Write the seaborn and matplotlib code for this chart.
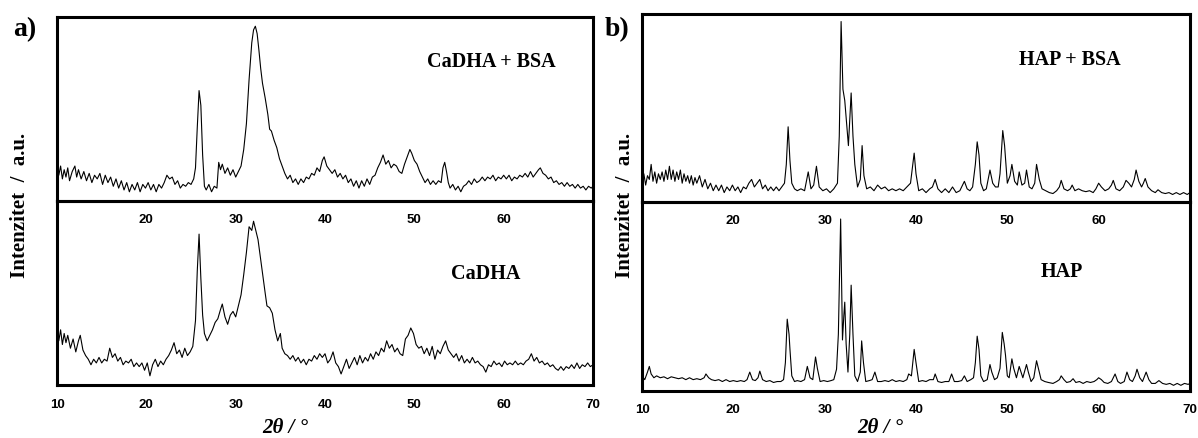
import pandas as pd
import matplotlib
matplotlib.use("Agg")
import matplotlib.pyplot as plt
import seaborn as sns
from matplotlib.ticker import MultipleLocator

# XRD traces: (2theta, intensity as fraction of panel height)
cadha_bsa = [(10.0,.21),(10.2,.14),(10.4,.19),(10.6,.12),(10.8,.17),(11.0,.13),(11.2,.18),(11.4,.11),(11.7,.16),(12.0,.19),(12.2,.13),(12.4,.17),(12.7,.12),(13.0,.16),(13.3,.11),(13.6,.15),(13.9,.10),(14.2,.14),(14.5,.12),(14.8,.15),(15.1,.09),(15.4,.14),(15.7,.10),(16.0,.13),(16.3,.08),(16.6,.12),(16.9,.07),(17.2,.11),(17.5,.06),(17.8,.10),(18.1,.05),(18.4,.09),(18.7,.06),(19.0,.10),(19.3,.05),(19.6,.09),(19.9,.07),(20.2,.10),(20.5,.06),(20.8,.09),(21.1,.05),(21.4,.09),(21.7,.07),(22.0,.10),(22.3,.14),(22.6,.12),(22.9,.13),(23.2,.09),(23.5,.11),(23.8,.07),(24.1,.09),(24.4,.08),(24.7,.10),(25.0,.09),(25.3,.12),(25.5,.18),(25.7,.40),(25.9,.60),(26.1,.52),(26.3,.25),(26.5,.08),(26.7,.06),(27.0,.09),(27.3,.05),(27.6,.08),(27.9,.07),(28.1,.21),(28.3,.17),(28.5,.20),(28.8,.15),(29.1,.18),(29.4,.14),(29.7,.17),(30.0,.13),(30.3,.16),(30.6,.19),(30.9,.28),(31.2,.42),(31.5,.66),(31.8,.86),(32.0,.93),(32.2,.95),(32.4,.91),(32.6,.82),(32.8,.72),(33.0,.64),(33.3,.56),(33.6,.47),(33.8,.39),(34.0,.38),(34.3,.33),(34.6,.29),(34.9,.23),(35.2,.19),(35.5,.15),(35.8,.12),(36.1,.14),(36.4,.10),(36.7,.12),(37.0,.09),(37.3,.12),(37.6,.10),(37.9,.13),(38.2,.12),(38.5,.15),(38.8,.14),(39.1,.18),(39.4,.16),(39.7,.22),(39.9,.24),(40.2,.19),(40.5,.17),(40.8,.15),(41.1,.17),(41.4,.13),(41.7,.15),(42.0,.12),(42.3,.14),(42.6,.10),(42.9,.12),(43.2,.08),(43.5,.11),(43.8,.07),(44.1,.11),(44.4,.08),(44.7,.12),(45.0,.09),(45.3,.13),(45.6,.14),(45.9,.18),(46.2,.21),(46.5,.25),(46.8,.20),(47.1,.22),(47.4,.18),(47.7,.20),(48.0,.19),(48.3,.16),(48.6,.15),(48.9,.20),(49.2,.24),(49.5,.28),(49.7,.26),(50.0,.22),(50.3,.20),(50.6,.16),(50.9,.13),(51.2,.10),(51.5,.12),(51.8,.09),(52.1,.11),(52.4,.09),(52.7,.11),(53.0,.10),(53.2,.18),(53.4,.21),(53.6,.16),(53.8,.10),(54.0,.07),(54.3,.09),(54.6,.06),(54.9,.08),(55.2,.05),(55.5,.08),(55.8,.09),(56.1,.11),(56.4,.09),(56.7,.12),(57.0,.10),(57.3,.11),(57.6,.13),(57.9,.11),(58.2,.13),(58.5,.12),(58.8,.14),(59.1,.11),(59.4,.13),(59.7,.12),(60.0,.14),(60.3,.12),(60.6,.14),(60.9,.11),(61.2,.13),(61.5,.12),(61.8,.14),(62.1,.13),(62.4,.15),(62.7,.13),(63.0,.16),(63.3,.13),(63.6,.15),(63.9,.17),(64.1,.18),(64.4,.15),(64.7,.14),(65.0,.12),(65.3,.13),(65.6,.10),(65.9,.11),(66.2,.09),(66.5,.10),(66.8,.08),(67.1,.10),(67.4,.08),(67.7,.09),(68.0,.07),(68.3,.09),(68.6,.07),(68.9,.08),(69.2,.06),(69.5,.08),(69.8,.07),(70.0,.08)]

cadha = [(10.0,.34),(10.2,.24),(10.4,.30),(10.6,.22),(10.8,.28),(11.0,.23),(11.2,.27),(11.5,.20),(11.8,.25),(12.1,.18),(12.4,.24),(12.6,.27),(12.9,.19),(13.2,.16),(13.5,.14),(13.8,.11),(14.1,.14),(14.4,.12),(14.7,.15),(15.0,.12),(15.3,.14),(15.6,.13),(15.9,.20),(16.2,.15),(16.5,.17),(16.8,.13),(17.1,.15),(17.4,.11),(17.7,.13),(18.0,.12),(18.3,.14),(18.6,.10),(18.9,.12),(19.2,.10),(19.5,.12),(19.8,.08),(20.1,.12),(20.4,.05),(20.7,.11),(21.0,.14),(21.3,.10),(21.6,.13),(21.9,.11),(22.2,.14),(22.5,.16),(22.8,.19),(23.1,.23),(23.4,.17),(23.7,.19),(24.0,.15),(24.3,.20),(24.6,.16),(24.9,.18),(25.2,.21),(25.5,.35),(25.7,.62),(25.9,.82),(26.1,.58),(26.3,.38),(26.5,.28),(26.8,.24),(27.1,.27),(27.4,.30),(27.7,.34),(28.0,.36),(28.3,.41),(28.5,.44),(28.8,.37),(29.1,.33),(29.4,.38),(29.7,.40),(30.0,.37),(30.3,.43),(30.6,.49),(30.9,.60),(31.2,.72),(31.5,.86),(31.8,.84),(32.0,.89),(32.2,.85),(32.5,.79),(32.8,.68),(33.0,.61),(33.3,.50),(33.5,.43),(33.8,.42),(34.1,.39),(34.4,.30),(34.7,.24),(35.0,.28),(35.2,.20),(35.5,.17),(35.8,.16),(36.1,.14),(36.4,.16),(36.7,.13),(37.0,.15),(37.3,.12),(37.6,.14),(37.9,.11),(38.2,.14),(38.5,.13),(38.8,.16),(39.1,.14),(39.4,.17),(39.7,.15),(40.0,.17),(40.3,.12),(40.6,.14),(40.9,.18),(41.2,.12),(41.5,.10),(41.8,.06),(42.1,.10),(42.4,.14),(42.7,.09),(43.0,.12),(43.3,.15),(43.6,.11),(43.9,.16),(44.2,.12),(44.5,.15),(44.8,.13),(45.1,.17),(45.4,.14),(45.7,.18),(46.0,.16),(46.3,.20),(46.6,.18),(46.9,.24),(47.2,.20),(47.5,.22),(47.8,.18),(48.1,.20),(48.4,.17),(48.7,.16),(49.0,.25),(49.3,.27),(49.6,.31),(49.9,.28),(50.2,.22),(50.5,.20),(50.8,.21),(51.1,.17),(51.4,.20),(51.7,.16),(52.0,.21),(52.3,.14),(52.6,.19),(52.9,.17),(53.2,.21),(53.5,.24),(53.8,.19),(54.1,.17),(54.4,.15),(54.7,.17),(55.0,.13),(55.3,.16),(55.6,.12),(55.9,.14),(56.2,.12),(56.5,.15),(56.8,.12),(57.1,.13),(57.4,.11),(57.7,.10),(58.0,.07),(58.3,.11),(58.6,.10),(58.9,.13),(59.2,.11),(59.5,.12),(59.8,.10),(60.1,.13),(60.4,.11),(60.7,.12),(61.0,.11),(61.3,.13),(61.6,.11),(61.9,.12),(62.2,.11),(62.5,.13),(62.8,.14),(63.1,.17),(63.4,.13),(63.7,.15),(64.0,.12),(64.3,.13),(64.6,.11),(64.9,.12),(65.2,.10),(65.5,.11),(65.8,.09),(66.1,.08),(66.4,.10),(66.7,.08),(67.0,.10),(67.3,.09),(67.6,.11),(67.9,.09),(68.2,.12),(68.5,.09),(68.8,.11),(69.1,.10),(69.4,.12),(69.7,.10),(70.0,.11)]

hap_bsa = [(10.0,.10),(10.2,.15),(10.4,.09),(10.6,.14),(10.8,.12),(11.0,.20),(11.2,.11),(11.4,.16),(11.6,.10),(11.8,.15),(12.0,.12),(12.2,.16),(12.4,.11),(12.6,.17),(12.8,.12),(13.0,.19),(13.2,.12),(13.4,.17),(13.6,.11),(13.8,.16),(14.0,.12),(14.2,.17),(14.4,.10),(14.6,.15),(14.8,.11),(15.0,.14),(15.2,.10),(15.4,.14),(15.6,.09),(15.8,.13),(16.0,.10),(16.3,.14),(16.6,.08),(16.9,.12),(17.2,.07),(17.5,.10),(17.8,.06),(18.1,.09),(18.4,.06),(18.7,.09),(19.0,.05),(19.3,.08),(19.6,.06),(19.9,.09),(20.2,.06),(20.5,.08),(20.8,.05),(21.1,.08),(21.4,.07),(21.7,.10),(22.0,.12),(22.3,.08),(22.6,.10),(22.9,.12),(23.2,.07),(23.5,.09),(23.8,.06),(24.1,.08),(24.4,.06),(24.7,.08),(25.0,.06),(25.3,.08),(25.6,.10),(25.8,.20),(26.0,.40),(26.2,.22),(26.4,.10),(26.7,.07),(27.0,.06),(27.4,.07),(27.8,.06),(28.2,.16),(28.5,.07),(28.8,.09),(29.1,.19),(29.4,.08),(29.8,.06),(30.2,.07),(30.6,.05),(31.0,.07),(31.4,.10),(31.6,.35),(31.8,.96),(32.0,.60),(32.2,.54),(32.4,.42),(32.6,.30),(32.9,.58),(33.1,.35),(33.3,.20),(33.6,.08),(33.9,.12),(34.1,.30),(34.3,.14),(34.6,.07),(35.0,.08),(35.4,.06),(35.8,.09),(36.2,.07),(36.6,.08),(37.0,.06),(37.4,.07),(37.8,.06),(38.2,.07),(38.6,.06),(39.0,.08),(39.4,.10),(39.6,.18),(39.8,.26),(40.0,.15),(40.3,.06),(40.7,.07),(41.1,.05),(41.5,.07),(41.8,.08),(42.1,.12),(42.4,.07),(42.8,.05),(43.2,.07),(43.6,.05),(44.0,.08),(44.4,.05),(44.8,.06),(45.1,.09),(45.3,.11),(45.6,.07),(45.9,.06),(46.2,.08),(46.5,.20),(46.7,.32),(46.9,.25),(47.1,.10),(47.4,.06),(47.7,.07),(48.1,.17),(48.4,.10),(48.7,.08),(49.0,.08),(49.2,.15),(49.5,.38),(49.7,.30),(50.0,.10),(50.3,.14),(50.5,.20),(50.8,.11),(51.1,.09),(51.3,.16),(51.6,.09),(51.9,.10),(52.1,.17),(52.4,.08),(52.7,.07),(53.0,.10),(53.2,.20),(53.5,.12),(53.8,.07),(54.2,.06),(54.6,.05),(55.0,.045),(55.4,.06),(55.7,.08),(55.9,.115),(56.2,.07),(56.6,.06),(56.9,.07),(57.1,.09),(57.4,.06),(57.8,.07),(58.2,.06),(58.6,.055),(59.0,.06),(59.4,.05),(59.7,.07),(60.0,.10),(60.3,.08),(60.7,.06),(61.1,.07),(61.4,.09),(61.6,.115),(61.9,.07),(62.3,.06),(62.7,.08),(63.0,.115),(63.3,.10),(63.6,.08),(63.9,.12),(64.1,.17),(64.4,.11),(64.7,.08),(64.9,.10),(65.1,.125),(65.4,.08),(65.8,.06),(66.2,.05),(66.5,.065),(66.9,.05),(67.3,.045),(67.7,.05),(68.1,.04),(68.5,.05),(68.9,.04),(69.3,.05),(69.7,.04),(70.0,.05)]

hap = [(10.0,.08),(10.3,.06),(10.6,.10),(10.8,.13),(11.0,.09),(11.3,.07),(11.6,.08),(12.0,.07),(12.4,.075),(12.8,.065),(13.2,.075),(13.6,.07),(14.0,.065),(14.4,.07),(14.8,.06),(15.2,.07),(15.6,.06),(16.0,.065),(16.4,.06),(16.8,.07),(17.0,.09),(17.3,.07),(17.6,.06),(18.0,.055),(18.4,.06),(18.8,.05),(19.2,.06),(19.6,.05),(20.0,.055),(20.4,.05),(20.8,.055),(21.2,.05),(21.5,.06),(21.8,.10),(22.1,.06),(22.4,.055),(22.7,.07),(22.9,.105),(23.2,.06),(23.6,.05),(24.0,.055),(24.4,.045),(24.8,.05),(25.2,.05),(25.5,.06),(25.7,.15),(25.9,.38),(26.1,.30),(26.2,.22),(26.4,.08),(26.7,.05),(27.0,.055),(27.4,.05),(27.8,.06),(28.1,.13),(28.4,.07),(28.7,.06),(29.0,.18),(29.2,.12),(29.5,.05),(29.9,.055),(30.3,.05),(30.7,.055),(31.0,.06),(31.3,.115),(31.5,.30),(31.75,.91),(31.95,.27),(32.1,.40),(32.2,.47),(32.35,.25),(32.55,.10),(32.75,.30),(32.9,.56),(33.1,.30),(33.3,.08),(33.6,.05),(33.9,.10),(34.05,.265),(34.25,.15),(34.5,.05),(34.9,.055),(35.2,.06),(35.5,.10),(35.8,.05),(36.2,.05),(36.6,.055),(37.0,.05),(37.4,.06),(37.8,.05),(38.2,.055),(38.6,.05),(39.0,.06),(39.2,.09),(39.5,.08),(39.8,.22),(40.0,.15),(40.3,.05),(40.7,.055),(41.1,.05),(41.5,.06),(41.9,.06),(42.1,.09),(42.4,.05),(42.8,.045),(43.2,.05),(43.6,.05),(43.9,.09),(44.2,.05),(44.6,.05),(45.0,.055),(45.3,.08),(45.6,.05),(46.0,.06),(46.3,.07),(46.5,.15),(46.7,.29),(46.9,.22),(47.1,.08),(47.4,.05),(47.8,.06),(48.1,.14),(48.3,.10),(48.6,.06),(48.9,.07),(49.2,.12),(49.45,.31),(49.65,.25),(49.8,.19),(50.0,.08),(50.2,.07),(50.5,.17),(50.7,.12),(51.0,.07),(51.3,.13),(51.5,.10),(51.7,.07),(52.1,.14),(52.3,.10),(52.6,.05),(52.9,.07),(53.2,.16),(53.4,.12),(53.7,.06),(54.1,.05),(54.5,.045),(55.0,.04),(55.4,.05),(55.7,.06),(55.9,.08),(56.2,.06),(56.5,.045),(56.9,.05),(57.2,.065),(57.5,.045),(57.9,.05),(58.3,.04),(58.7,.05),(59.1,.045),(59.5,.05),(59.8,.06),(60.0,.07),(60.3,.06),(60.6,.045),(61.0,.04),(61.4,.05),(61.8,.09),(62.1,.05),(62.4,.04),(62.8,.05),(63.1,.10),(63.4,.06),(63.7,.05),(64.0,.08),(64.2,.115),(64.5,.07),(64.8,.05),(65.2,.10),(65.5,.06),(65.8,.04),(66.2,.04),(66.6,.055),(67.0,.04),(67.4,.035),(67.8,.04),(68.2,.03),(68.6,.04),(69.0,.03),(69.4,.04),(69.8,.035),(70.0,.04)]

sample_names = ["CaDHA + BSA", "CaDHA", "HAP + BSA", "HAP"]
top_ticks = [20, 30, 40, 50, 60]
bottom_ticks = [10, 20, 30, 40, 50, 60, 70]

sns.set_style("white")
plt.rcParams["font.family"] = ["Liberation Sans", "DejaVu Sans"]
plt.rcParams["text.color"] = "black"
plt.rcParams["xtick.color"] = "black"
plt.rcParams["axes.labelcolor"] = "black"

fig = plt.figure(figsize=(11.98, 4.39), dpi=100)

# [left, bottom, width, height] for each stacked panel
boxes = [
    [0.0476, 0.5399, 0.4474, 0.4191],
    [0.0476, 0.1207, 0.4474, 0.4192],
    [0.5359, 0.5376, 0.4574, 0.4282],
    [0.5359, 0.1071, 0.4574, 0.4305],
]
traces = [cadha_bsa, cadha, hap_bsa, hap]
label_pos = [(0.81, 0.76), (0.80, 0.61), (0.78, 0.76), (0.766, 0.635)]

serif = ["Liberation Serif", "DejaVu Serif"]

for i, (box, trace) in enumerate(zip(boxes, traces)):
    ax = fig.add_axes(box)
    ax.patch.set_visible(False)
    df = pd.DataFrame(trace, columns=["x", "y"])
    sns.lineplot(data=df, x="x", y="y", ax=ax, color="black", linewidth=0.8)
    ax.set_xlim(10, 70)
    ax.set_ylim(0, 1)
    ax.set_yticks([])
    ax.set_xlabel("")
    ax.set_ylabel("")
    for s in ax.spines.values():
        s.set_linewidth(2.2)
        s.set_color("black")
    ax.set_xticks(top_ticks if i % 2 == 0 else bottom_ticks)
    ax.xaxis.set_minor_locator(MultipleLocator(5))
    ax.tick_params(axis="x", which="major", length=0, pad=9, labelsize=9.5, labelcolor="black")
    ax.tick_params(axis="x", which="minor", length=4, width=1.5, direction="out")
    for lab in ax.get_xticklabels():
        lab.set_fontweight("bold")
    tx, ty = label_pos[i]
    ax.text(tx, ty, sample_names[i], transform=ax.transAxes, ha="center", va="center",
            fontsize=14.5, fontweight="bold", family=serif, color="black")

for xl, xx, ylx in [("a)", 25 / 1198, 20 / 1198), ("b)", 617 / 1198, 625 / 1198)]:
    fig.text(xx, 1 - 30 / 439, xl, ha="center", va="center", fontsize=20,
             fontweight="bold", family=serif)
    fig.text(ylx, 1 - 205 / 439, "Intenzitet  /  a.u.", rotation=90, ha="center",
             va="center", fontsize=15, fontweight="bold", family=serif)

for xx in [285 / 1198, 880 / 1198]:
    fig.text(xx, 1 - 428 / 439, "2θ / °", ha="center", va="center",
             fontsize=15, fontweight="bold", style="italic", family=serif)

fig.savefig("out.png", dpi=100)
